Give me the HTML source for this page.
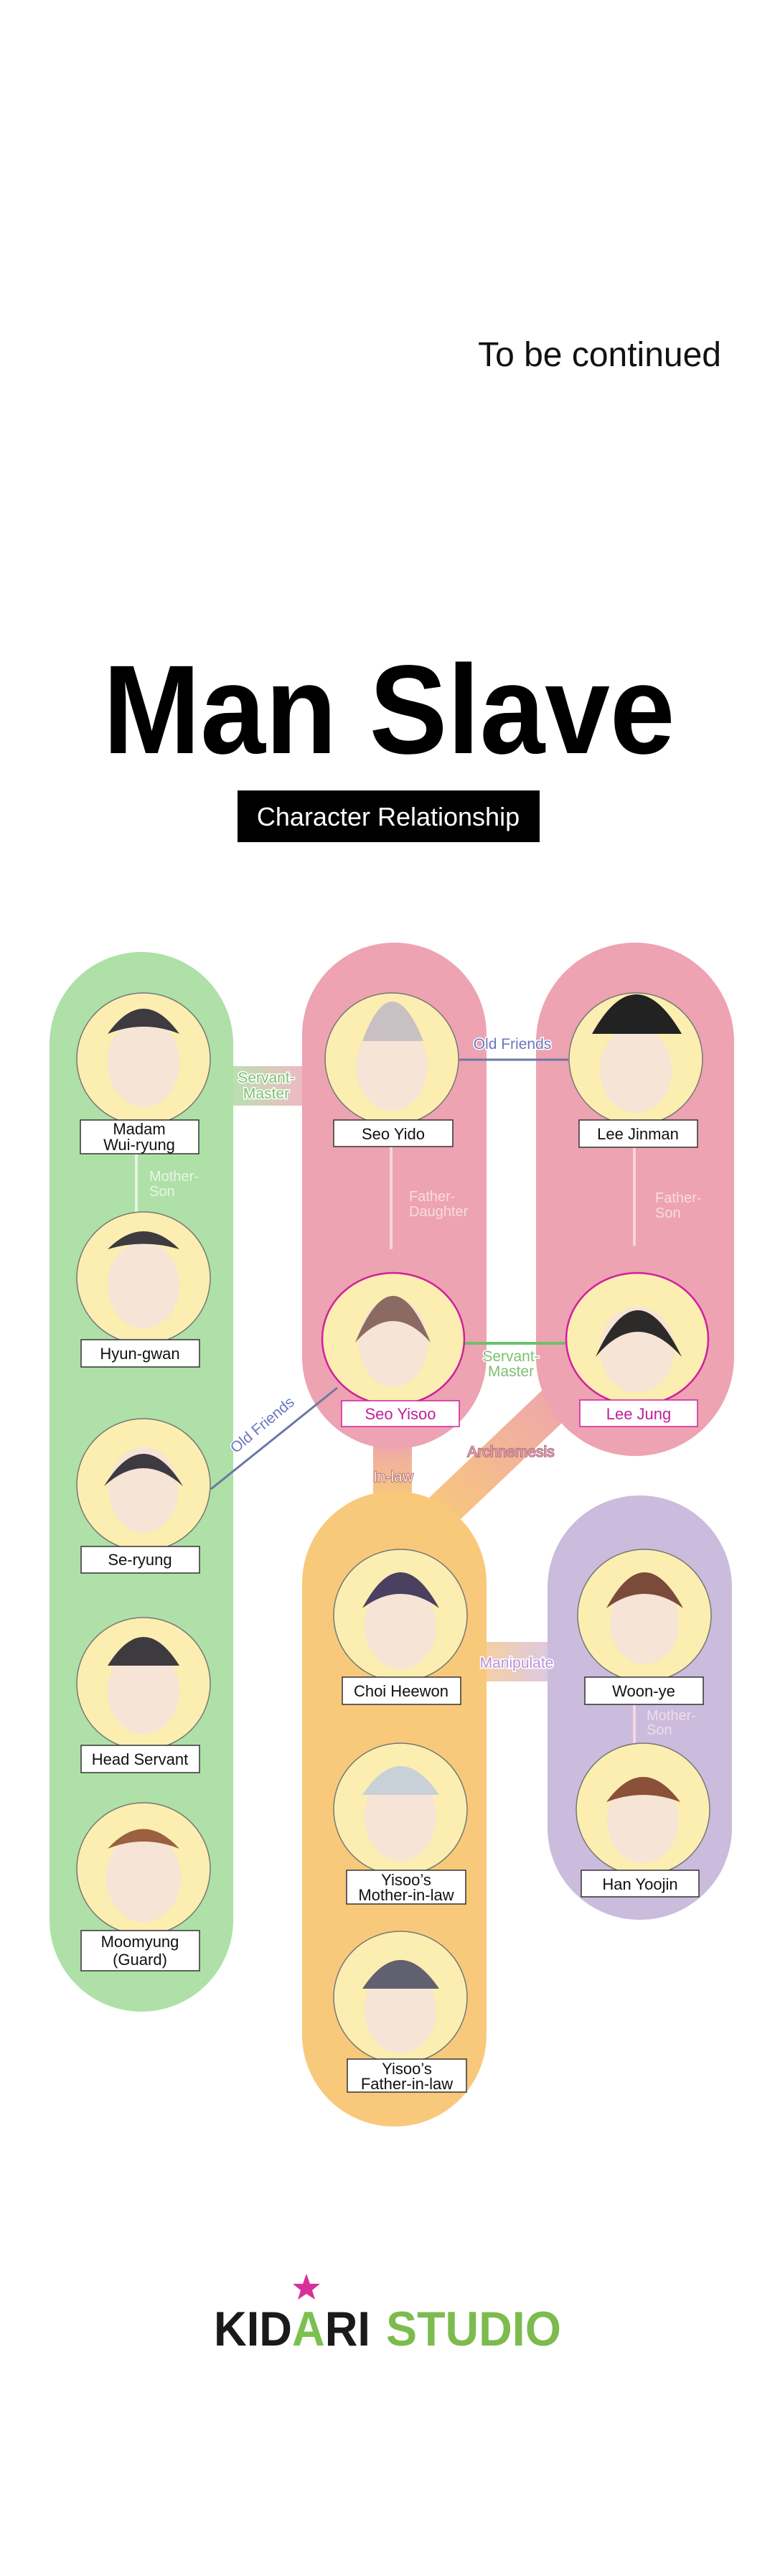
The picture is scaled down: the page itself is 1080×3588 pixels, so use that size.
<!DOCTYPE html>
<html><head><meta charset="utf-8"><style>
html,body{margin:0;padding:0;background:#fff;}
svg{display:block;}
.lab{font-family:"Liberation Sans Narrow","Liberation Sans",sans-serif;font-size:22px;fill:#111;text-anchor:middle;}
.rel{font-family:"Liberation Sans Narrow","Liberation Sans",sans-serif;font-size:21px;text-anchor:middle;paint-order:stroke;stroke:#fff;stroke-width:3px;}
</style></head><body>
<svg width="1080" height="3588" viewBox="0 0 1080 3588" xmlns="http://www.w3.org/2000/svg">
<defs>
<linearGradient id="sm" x1="0" x2="1"><stop offset="0" stop-color="#b8e2b0"/><stop offset="1" stop-color="#f0b8c4"/></linearGradient>
<linearGradient id="il" x1="0" y1="0" x2="0" y2="1"><stop offset="0" stop-color="#eda3b1"/><stop offset="1" stop-color="#f8c97a"/></linearGradient>
<linearGradient id="ar" x1="1" y1="0" x2="0" y2="1"><stop offset="0" stop-color="#eda3b1"/><stop offset="1" stop-color="#f8c97a"/></linearGradient>
<linearGradient id="mp" x1="0" x2="1"><stop offset="0" stop-color="#f6d0a0"/><stop offset="1" stop-color="#dcc8e4"/></linearGradient>
</defs>
<text x="1005" y="510" font-family="Liberation Sans, sans-serif" font-size="48" text-anchor="end" fill="#111">To be continued</text>
<text x="542" y="1049" font-family="Liberation Sans, sans-serif" font-weight="bold" font-size="176" text-anchor="middle" fill="#000" textLength="797" lengthAdjust="spacingAndGlyphs">Man Slave</text>
<rect x="331" y="1101" width="421" height="72" fill="#000"/>
<text x="541" y="1150" font-family="Liberation Sans Narrow, Liberation Sans, sans-serif" font-size="36" text-anchor="middle" fill="#fff">Character Relationship</text>

<!-- connectors bands -->
<rect x="320" y="1485" width="106" height="55" fill="url(#sm)"/>
<rect x="520" y="2000" width="54" height="90" fill="url(#il)"/>
<line x1="800" y1="1930" x2="600" y2="2120" stroke="url(#ar)" stroke-width="52"/>
<rect x="672" y="2287" width="96" height="55" fill="url(#mp)"/>

<!-- pills -->
<rect x="69" y="1326" width="256" height="1476" rx="128" fill="#aee0a8"/>
<rect x="421" y="1313" width="257" height="705" rx="128" fill="#eda3b1"/>
<rect x="747" y="1313" width="276" height="715" rx="138" fill="#eda3b1"/>
<rect x="421" y="2077" width="257" height="885" rx="128" fill="#f8c97a"/>
<rect x="763" y="2083" width="257" height="591" rx="128" fill="#cbbbdc"/>

<!-- lines -->
<line x1="640" y1="1476" x2="792" y2="1476" stroke="#6b77a8" stroke-width="3"/>
<line x1="647" y1="1871" x2="789" y2="1871" stroke="#6fbf6a" stroke-width="4"/>
<line x1="470" y1="1933" x2="294" y2="2074" stroke="#6b77a8" stroke-width="3"/>
<line x1="190" y1="1607" x2="190" y2="1690" stroke="#e6f4e2" stroke-width="4"/>
<line x1="545" y1="1597" x2="545" y2="1740" stroke="#f6d6dc" stroke-width="4"/>
<line x1="884" y1="1598" x2="884" y2="1735" stroke="#f6d6dc" stroke-width="4"/>
<line x1="884" y1="2374" x2="884" y2="2470" stroke="#f6d6e6" stroke-width="4"/>

<!-- portraits -->
<g stroke="#777" stroke-width="1.5" fill="#fbeeb0">
<ellipse cx="200" cy="1475" rx="93" ry="92"/>
<ellipse cx="200" cy="1780" rx="93" ry="92"/>
<ellipse cx="200" cy="2068" rx="93" ry="92"/>
<ellipse cx="200" cy="2345" rx="93" ry="92"/>
<ellipse cx="200" cy="2603" rx="93" ry="92"/>
<ellipse cx="546" cy="1475" rx="93" ry="92"/>
<ellipse cx="886" cy="1475" rx="93" ry="92"/>
<ellipse cx="548" cy="1865" rx="99" ry="92" stroke="#d020a0" stroke-width="2.5"/>
<ellipse cx="888" cy="1865" rx="99" ry="92" stroke="#d020a0" stroke-width="2.5"/>
<ellipse cx="558" cy="2250" rx="93" ry="92"/>
<ellipse cx="558" cy="2520" rx="93" ry="92"/>
<ellipse cx="558" cy="2782" rx="93" ry="92"/>
<ellipse cx="898" cy="2250" rx="93" ry="92"/>
<ellipse cx="896" cy="2520" rx="93" ry="92"/>
</g>
<!-- simple faces -->
<g>
<g fill="#f6e4d6"><ellipse cx="200" cy="1480" rx="50" ry="62"/><ellipse cx="200" cy="1790" rx="50" ry="60"/><ellipse cx="200" cy="2075" rx="48" ry="60"/><ellipse cx="200" cy="2355" rx="50" ry="60"/><ellipse cx="200" cy="2615" rx="52" ry="62"/><ellipse cx="546" cy="1485" rx="50" ry="62"/><ellipse cx="886" cy="1490" rx="50" ry="60"/><ellipse cx="548" cy="1870" rx="48" ry="62"/><ellipse cx="888" cy="1880" rx="52" ry="60"/><ellipse cx="558" cy="2265" rx="50" ry="60"/><ellipse cx="558" cy="2530" rx="50" ry="62"/><ellipse cx="558" cy="2800" rx="50" ry="60"/><ellipse cx="898" cy="2260" rx="48" ry="58"/><ellipse cx="896" cy="2535" rx="50" ry="60"/></g>
<g fill="#3d3a40"><path d="M150 1440 Q200 1370 250 1440 Q200 1420 150 1440Z"/><path d="M150 1740 Q200 1690 250 1740 Q200 1725 150 1740Z"/><path d="M145 2070 Q200 1980 255 2070 Q200 2020 145 2070Z"/><path d="M150 2320 Q200 2240 250 2320Z"/><path d="M150 2575 Q200 2520 250 2575 Q200 2555 150 2575Z" fill="#9a6040"/><path d="M505 1450 Q546 1340 590 1450Z" fill="#c9c0c4"/><path d="M825 1440 Q886 1330 950 1440Z" fill="#222"/><path d="M495 1870 Q548 1740 600 1870 Q548 1810 495 1870Z" fill="#8a6a62"/><path d="M830 1890 Q888 1760 950 1890 Q888 1820 830 1890Z" fill="#2d2a2a"/><path d="M505 2240 Q558 2140 612 2240 Q558 2200 505 2240Z" fill="#4a4060"/><path d="M505 2500 Q558 2420 612 2500Z" fill="#c8d0d8"/><path d="M505 2770 Q558 2690 612 2770Z" fill="#606070"/><path d="M845 2240 Q898 2140 952 2240 Q898 2200 845 2240Z" fill="#7a4a3a"/><path d="M845 2510 Q896 2440 948 2510 Q896 2490 845 2510Z" fill="#8a5038"/></g>
</g>

<!-- labels -->
<g fill="#fff" stroke="#333" stroke-width="1.5">
<rect x="112" y="1560" width="165" height="47"/>
<rect x="113" y="1866" width="165" height="38"/>
<rect x="113" y="2154" width="165" height="37"/>
<rect x="113" y="2431" width="165" height="38"/>
<rect x="113" y="2689" width="165" height="56"/>
<rect x="465" y="1560" width="166" height="37"/>
<rect x="807" y="1560" width="165" height="38"/>
<rect x="476" y="1951" width="164" height="36" stroke="#d020a0"/>
<rect x="808" y="1950" width="164" height="37" stroke="#d020a0"/>
<rect x="477" y="2336" width="165" height="38"/>
<rect x="483" y="2605" width="166" height="47"/>
<rect x="484" y="2868" width="166" height="46"/>
<rect x="815" y="2336" width="165" height="38"/>
<rect x="810" y="2605" width="164" height="37"/>
</g>
<g class="lab">
<text x="194" y="1580">Madam</text><text x="194" y="1602">Wui-ryung</text>
<text x="195" y="1893">Hyun-gwan</text>
<text x="195" y="2180">Se-ryung</text>
<text x="195" y="2458">Head Servant</text>
<text x="195" y="2712">Moomyung</text><text x="195" y="2737">(Guard)</text>
<text x="548" y="1587">Seo Yido</text>
<text x="889" y="1587">Lee Jinman</text>
<text x="558" y="1977" fill="#c0209a">Seo Yisoo</text>
<text x="890" y="1977" fill="#c0209a">Lee Jung</text>
<text x="559" y="2363">Choi Heewon</text>
<text x="566" y="2626">Yisoo’s</text><text x="566" y="2647">Mother-in-law</text>
<text x="567" y="2889">Yisoo’s</text><text x="567" y="2910">Father-in-law</text>
<text x="897" y="2363">Woon-ye</text>
<text x="892" y="2632">Han Yoojin</text>
</g>

<!-- relation texts -->
<g class="rel">
<text x="371" y="1508" fill="#7cc070">Servant-</text><text x="371" y="1530" fill="#7cc070">Master</text>
<text x="714" y="1461" fill="#6b77c0">Old Friends</text>
<text x="712" y="1896" fill="#7cc070">Servant-</text><text x="712" y="1917" fill="#7cc070">Master</text>
<text x="712" y="2029" fill="#e0a0b0" stroke="#a06070" stroke-width="1.5">Archnemesis</text>
<text x="548" y="2064" fill="#fbe4d8" stroke="#a06070" stroke-width="1.5">In-law</text>
<text x="720" y="2323" fill="#b890dc">Manipulate</text>
<text x="370" y="1990" fill="#6b77c0" transform="rotate(-40 370 1990)">Old Friends</text>
</g>
<g font-family="Liberation Sans Narrow, Liberation Sans, sans-serif" font-size="20">
<text x="208" y="1645" fill="#e8f6e4">Mother-</text><text x="208" y="1666" fill="#e8f6e4">Son</text>
<text x="570" y="1673" fill="#f8dce2">Father-</text><text x="570" y="1694" fill="#f8dce2">Daughter</text>
<text x="913" y="1675" fill="#f8dce2">Father-</text><text x="913" y="1696" fill="#f8dce2">Son</text>
<text x="901" y="2396" fill="#f0dcec">Mother-</text><text x="901" y="2416" fill="#f0dcec">Son</text>
</g>

<!-- logo -->
<polygon points="427,3167 432,3181 446,3181 435,3190 439,3203 427,3195 415,3203 419,3190 408,3181 422,3181" fill="#d8309a"/>
<text x="298" y="3267" font-family="Liberation Sans, sans-serif" font-weight="bold" font-size="68" fill="#1a1a1a" textLength="218" lengthAdjust="spacingAndGlyphs">KID<tspan fill="#7cc050">A</tspan>RI</text>
<text x="538" y="3267" font-family="Liberation Sans, sans-serif" font-weight="bold" font-size="68" fill="#7cbb4e" textLength="244" lengthAdjust="spacingAndGlyphs">STUDIO</text>
</svg>
</body></html>
